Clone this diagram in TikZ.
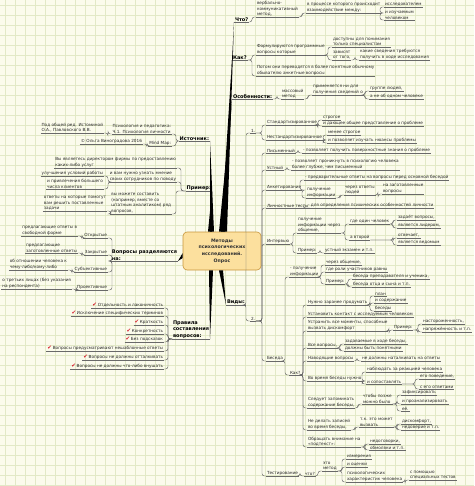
\documentclass[tikz,border=0pt]{standalone}
\usepackage{fontspec}
\setmainfont{DejaVu Sans}
\definecolor{bgc}{RGB}{251,251,236}
\definecolor{gridc}{RGB}{226,233,198}
\definecolor{linec}{RGB}{105,105,105}
\definecolor{coref}{RGB}{252,224,158}
\definecolor{coreb}{RGB}{200,150,60}
\definecolor{chkr}{RGB}{214,30,45}
\newcommand\okmark{{\color{chkr}\fontsize{5.5}{5.5}\selectfont ✔}\,}

\begin{document}
\begin{tikzpicture}[x=1pt,y=-1pt,
  tp/.style={font=\fontsize{4.2}{5.5}\selectfont,text=black!85,align=left,
    inner xsep=0.8pt,inner ysep=0.7pt,anchor=south west,
    append after command={(\tikzlastnode.south west) edge[uline] (\tikzlastnode.south east)}},
  tl/.style={tp,anchor=south east},
  lab/.style={tp,font=\fontsize{5}{6.3}\selectfont\bfseries,text=black},
  core/.style={draw=coreb,fill=coref,line width=0.6pt,rounded corners=4pt,
    minimum width=78pt,minimum height=38pt,align=center,
    font=\fontsize{4.7}{6.7}\selectfont\bfseries,text=black!80},
  uline/.style={draw=linec,line width=0.4pt},
  lnk/.style={draw=linec,line width=0.45pt,rounded corners=2.5pt},
  br/.style={fill=black}]
\useasboundingbox (0,0) rectangle (474,486);
\fill[bgc] (0,0) rectangle (474,486);
\foreach \i in {5,15,...,465} \draw[gridc,line width=0.4pt] (\i,0) -- (\i,486);
\foreach \j in {5,15,...,485} \draw[gridc,line width=0.4pt] (0,\j) -- (474,\j);

\node[core] (core) at (222,251) {Методы\\психологических\\исследований.\\Опрос};

% main topics
\node[lab] (chto) at (234,22) {Что?};
\node[lab] (kak) at (232,60) {Как?};
\node[lab] (osob) at (232,99) {Особенности:};
\node[lab] (vidy) at (226,305) {Виды:};
\node[lab,anchor=south east] (ist) at (210,141) {Источник:};
\node[lab,anchor=south east] (prm) at (212,191) {Пример:};
\node[lab,anchor=south east] (vopr) at (178,261) {Вопросы разделяются\\на:};
\node[lab] (prav) at (172,339) {Правила\\составления\\вопросов:};

\fill[br] ([xshift=1pt]core.north) -- (chto.south west) -- ([xshift=5pt]core.north) -- cycle;
\fill[br] ([xshift=-1pt]core.north) -- (kak.south west) -- ([xshift=3pt]core.north) -- cycle;
\fill[br] ([xshift=-3pt]core.north) -- (osob.south west) -- ([xshift=1pt]core.north) -- cycle;
\fill[br] ([xshift=-12pt]core.north) -- (ist.south east) -- ([xshift=-8pt]core.north) -- cycle;
\fill[br] ([xshift=-14pt]core.north) -- (prm.south east) -- ([xshift=-10pt]core.north) -- cycle;
\fill[br] ([yshift=-2pt]core.west) -- (vopr.south east) -- ([yshift=-7pt]core.west) -- cycle;
\fill[br] ([xshift=-13pt]core.south) -- (prav.south east) -- ([xshift=-9pt]core.south) -- cycle;
\fill[br] ([xshift=-3pt]core.south) -- (vidy.south west) -- ([xshift=1pt]core.south) -- cycle;

% right side
\node[tp] (verb) at (256,17) {вербально-\\коммуникативный\\метод,};
\node[tp] (vproc) at (306,13) {в процессе которого происходит\\взаимодействие между:};
\node[tp] (issl) at (384,7) {исследователем};
\node[tp] (izuch) at (384,20) {и изучаемым\\человеком};
\node[tp] (form) at (256,55) {Формулируются программные\\вопросы которые};
\node[tp] (dost) at (332,47) {доступны для понимания\\только специалистам};
\node[tp] (zav) at (332,60) {зависят\\от того,};
\node[tp] (kakie) at (359,60) {какие сведения требуются\\получить в ходе исследования};
\node[tp] (potom) at (256,76) {Потом они переводятся в более понятные обычному\\обывателю анкетные вопросы};
\node[tp] (mass) at (281,99) {массовый\\метод};
\node[tp] (prim) at (312,95) {применяется ни для\\получения сведений о};
\node[tp] (grup) at (369,91) {группе людей,};
\node[tp] (odin) at (369,99) {а не об одном человеке};

\node[tp] (v1) at (250,133) {1.};
\node[tp] (v2) at (250,321) {2.};
\node[tp] (stand) at (266,125) {Стандартизированное};
\node[tp] (strog) at (322,120) {строгое};
\node[tp] (obsch) at (322,126) {и дающее общее представление о проблеме};
\node[tp] (nestand) at (266,140) {Нестандартизированное};
\node[tp] (menee) at (327,135) {менее строгое};
\node[tp] (nuans) at (327,143) {и позволяет изучать нюансы проблемы};
\node[tp] (pism) at (266,153) {Письменный};
\node[tp] (pism1) at (302,153) {- позволяет получить поверхностные знания о проблеме};
\node[tp] (ustn) at (266,170) {Устный};
\node[tp] (ustn1) at (291,170) {- позволяет проникнуть в психологию человека\\более глубже, чем письменный};
\node[tp] (anket) at (266,190) {Анкетирование};
\node[tp] (anket1) at (304,180) {- предварительные ответы на вопросы перед основной беседой};
\node[tp] (anket2) at (306,198) {получение\\информации};
\node[tp] (anket3) at (344,195) {через ответы\\людей};
\node[tp] (anket4) at (382,194) {на заготовленные\\вопросы};
\node[tp] (lich) at (266,208) {Личностные тесты};
\node[tp] (lich1) at (307,208) {- для определения психических особенностей личности};
\node[tp] (interv) at (266,244) {Интервью};
\node[tp] (int1) at (297,233) {получение\\информации через\\общение,};
\node[tp] (int2) at (349,224) {где один человек};
\node[tp] (int3) at (397,220) {задаёт вопросы,};
\node[tp] (int4) at (397,228) {является лидером,};
\node[tp] (int5) at (349,240) {а второй};
\node[tp] (int6) at (397,238) {отвечает,};
\node[tp] (int7) at (397,245) {является ведомым};
\node[tp] (int8) at (297,253) {Пример:};
\node[tp] (int9) at (324,253) {устный экзамен и т.п.};
\node[tp] (beseda) at (266,361) {Беседа};
\node[tp] (bes1) at (289,277) {- получение\\информации};
\node[tp] (bes2) at (325,265) {через общение,};
\node[tp] (bes3) at (325,272) {где роли участников равны};
\node[tp] (bes4) at (325,284) {Пример:};
\node[tp] (bes5) at (352,279) {беседа преподавателя и ученика,};
\node[tp] (bes6) at (352,287) {беседа отца и сына и т.п.};
\node[tp] (kak2) at (289,375) {Как?};
\node[tp] (k1) at (307,305) {Нужно заранее продумать};
\node[tp] (k1a) at (374,296) {план};
\node[tp] (k1b) at (374,303) {и содержание};
\node[tp] (k1c) at (374,311) {беседы};
\node[tp] (k2) at (307,317) {Установить контакт с исследуемым человеком};
\node[tp] (k3) at (307,331) {Устранить все моменты, способные\\вызвать дискомфорт};
\node[tp] (k3a) at (393,330) {Пример:};
\node[tp] (k3b) at (422,324) {настороженность,};
\node[tp] (k3c) at (422,332) {напряжённость и т.п.};
\node[tp] (k4) at (307,348) {Все вопросы,};
\node[tp] (k4a) at (344,344) {задаваемые в ходе беседы,};
\node[tp] (k4b) at (344,351) {должны быть понятными};
\node[tp] (k5) at (307,361) {Наводящие вопросы};
\node[tp] (k5a) at (361,361) {не должны наталкивать на ответы};
\node[tp] (k6) at (307,381) {Во время беседы нужно};
\node[tp] (k6a) at (366,372) {наблюдать за реакцией человека};
\node[tp] (k6b) at (366,384) {и сопоставлять};
\node[tp] (k6c) at (419,379) {его поведение,};
\node[tp] (k6d) at (419,389) {с его ответами};
\node[tp] (k7) at (307,408) {Следует запоминать\\содержание беседы,};
\node[tp] (k7a) at (362,404) {чтобы позже\\можно было};
\node[tp] (k7b) at (401,395) {зафиксировать};
\node[tp] (k7c) at (401,404) {и проанализировать};
\node[tp] (k7d) at (401,411) {её.};
\node[tp] (k8) at (307,430) {Не делать записей\\во время беседы,};
\node[tp] (k8a) at (359,427) {т.к. это может\\вызвать};
\node[tp] (k8b) at (401,424) {дискомфорт,};
\node[tp] (k8c) at (401,430) {недоверие и т.п.};
\node[tp] (k9) at (307,447) {Обращать внимание на\\«подтекст»:};
\node[tp] (k9a) at (369,444) {недоговорки,};
\node[tp] (k9b) at (369,450) {обмолвки и т.п.};
\node[tp] (test) at (266,476) {Тестирование};
\node[tp] (t1) at (304,476) {что?};
\node[tp] (t2) at (322,471) {это\\метод};
\node[tp] (t3) at (346,459) {измерения};
\node[tp] (t4) at (346,467) {и оценки};
\node[tp] (t5) at (346,482) {психологических\\характеристик человека};
\node[tp] (t6) at (409,480) {с помощью\\специальных тестов};

% left side
\node[tl] (psy) at (172,134) {Психология и педагогика:\\Ч.1. Психология личности};
\node[tl] (red) at (104,133) {Под общей ред. Истоминой\\О.А., Павловского В.В.};
\node[tl] (mm) at (172,146) {Mind Map:};
\node[tl] (copy) at (143,144) {© Ольга Виноградова 2016};
\node[tl] (p1) at (177,168) {Вы являетесь директором фирмы по предоставлению\\каких-либо услуг};
\node[tl] (p2) at (177,182) {и вам нужно узнать мнение\\своих сотрудников по поводу};
\node[tl] (p2a) at (104,176) {улучшения условий работы};
\node[tl] (p2b) at (104,189) {и привлечения большего\\числа клиентов};
\node[tl] (p3) at (172,214) {вы можете составить\\(например, вместе со\\штатным аналитиком) ряд\\вопросов,};
\node[tl] (p3a) at (107,211) {ответы на которые помогут\\вам решить поставленные\\задачи};
\node[tl] (otkr) at (108,238) {Открытые};
\node[tl] (otkr1) at (78,236) {предлагающие ответы в\\свободной форме};
\node[tl] (zakr) at (108,255) {Закрытые};
\node[tl] (zakr1) at (78,253) {предлагающие\\заготовленные ответы};
\node[tl] (subj) at (108,272) {Субъективные};
\node[tl] (subj1) at (68,270) {об отношении человека к\\чему-либо/кому-либо};
\node[tl] (proekt) at (108,290) {Проективные};
\node[tl] (proekt1) at (72,289) {о третьих лицах (без указания\\на респондента)};
\node[tl] (r1) at (164,308) {\okmark Отдельность и лаконичность};
\node[tl] (r2) at (164,316) {\okmark Исключение специфических терминов};
\node[tl] (r3) at (164,325) {\okmark Краткость};
\node[tl] (r4) at (164,334) {\okmark Конкретность};
\node[tl] (r5) at (164,342) {\okmark Без подсказок};
\node[tl] (r6) at (164,351) {\okmark Вопросы предусматривают нешаблонные ответы};
\node[tl] (r7) at (164,360) {\okmark Вопросы не должны отталкивать};
\node[tl] (r8) at (164,369) {\okmark Вопросы не должны что-либо внушать};

\foreach \p/\c in {chto/verb,verb/vproc,vproc/issl,vproc/izuch,
  kak/form,form/dost,form/zav,zav/kakie,kak/potom,
  osob/mass,mass/prim,prim/grup,prim/odin,vidy/v1,vidy/v2,
  v1/stand,v1/nestand,stand/strog,stand/obsch,nestand/menee,nestand/nuans,
  v2/pism,pism/pism1,v2/ustn,ustn/ustn1,v2/anket,anket/anket1,anket/anket2,
  anket2/anket3,anket3/anket4,v2/lich,lich/lich1,
  v2/interv,interv/int1,int1/int2,int2/int3,int2/int4,int1/int5,int5/int6,
  int5/int7,interv/int8,int8/int9,
  v2/beseda,beseda/bes1,bes1/bes2,bes1/bes3,bes1/bes4,bes4/bes5,bes4/bes6,
  beseda/kak2,kak2/k1,k1/k1a,k1/k1b,k1/k1c,kak2/k2,kak2/k3,k3/k3a,k3a/k3b,
  k3a/k3c,kak2/k4,k4/k4a,k4/k4b,kak2/k5,k5/k5a,kak2/k6,k6/k6a,k6/k6b,
  k6b/k6c,k6b/k6d,kak2/k7,k7/k7a,k7a/k7b,k7a/k7c,k7a/k7d,kak2/k8,k8/k8a,
  k8a/k8b,k8a/k8c,kak2/k9,k9/k9a,k9/k9b,
  v2/test,test/t1,t1/t2,t2/t3,t2/t4,t2/t5,t5/t6}
  \draw[lnk] (\p.south east) -| ([xshift=-4pt]\c.south west) -- (\c.south west);

\foreach \p/\c in {ist/psy,psy/red,ist/mm,mm/copy,
  prm/p1,prm/p2,p2/p2a,p2/p2b,prm/p3,p3/p3a,
  vopr/otkr,otkr/otkr1,vopr/zakr,zakr/zakr1,vopr/subj,subj/subj1,
  vopr/proekt,proekt/proekt1,
  prav/r1,prav/r2,prav/r3,prav/r4,prav/r5,prav/r6,prav/r7,prav/r8}
  \draw[lnk] (\p.south west) -| ([xshift=4pt]\c.south east) -- (\c.south east);
\end{tikzpicture}
\end{document}
